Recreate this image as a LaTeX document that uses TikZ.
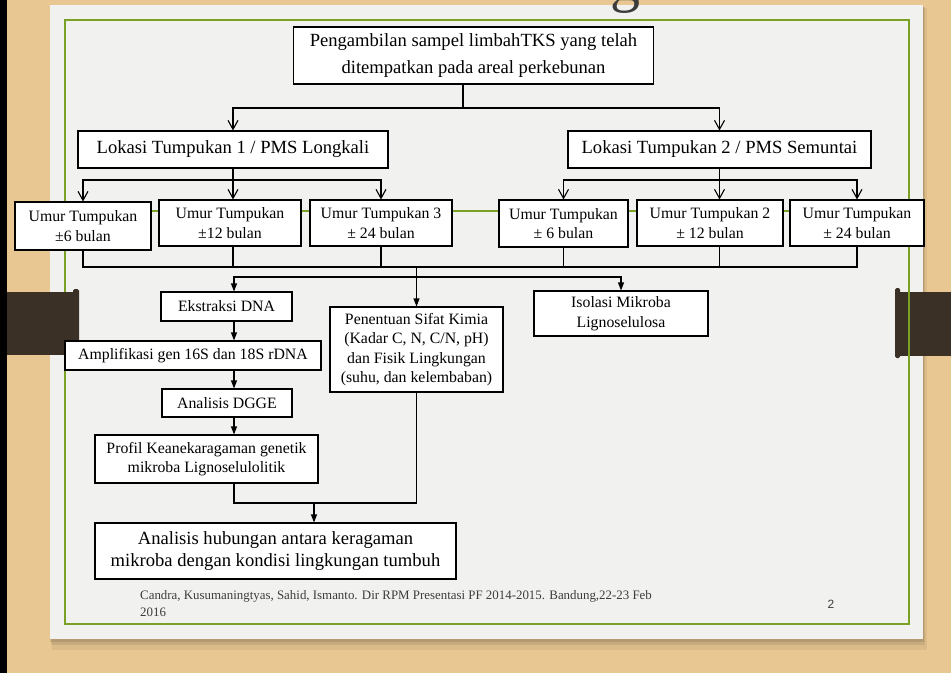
\documentclass[tikz,border=0pt]{standalone}
\usepackage{fontspec}
\setmainfont{Liberation Serif}
\newfontfamily\pagenofont{Liberation Sans}
\usetikzlibrary{arrows.meta}

\definecolor{woodtan}{RGB}{233,199,146}
\definecolor{paper}{RGB}{241,241,239}
\definecolor{slidegreen}{RGB}{122,160,38}
\definecolor{tabbrown}{RGB}{58,48,38}
\definecolor{footgray}{RGB}{60,60,60}

\begin{document}
\begin{tikzpicture}[x=1pt,y=-1pt]
  \tikzstyle{box}=[draw,fill=white,line width=1.1pt,align=center,inner sep=0pt]
  \tikzstyle{bigtext}=[font=\fontsize{18.6}{22}\selectfont]
  \tikzstyle{smalltext}=[font=\fontsize{15.8}{19.5}\selectfont]
  \tikzstyle{link}=[line width=1.1pt]
  \tikzstyle{openarrow}=[link,-{Straight Barb[length=9pt,width=10pt]}]
  \tikzstyle{fillarrow}=[link,-{Triangle[length=8pt,width=6pt]}]
  \useasboundingbox (0,0) rectangle (951,673);

  % slide background
  \fill[woodtan] (0,0) rectangle (951,673);
  \fill[black] (0,0) rectangle (7,673);
  \fill[black,opacity=.06] (52,8) rectangle (927,650);
  \fill[black,opacity=.08] (51,7) rectangle (925,645);
  \fill[black,opacity=.10] (50,6) rectangle (924,642);
  \fill[paper] (50,5) rectangle (923,639);
  \fill[tabbrown] (898,292) rectangle (951,356);
  \fill[tabbrown,rounded corners=1.5pt] (895,288) rectangle (900,358);
  \draw[slidegreen,line width=2pt] (65,20) rectangle (909,624);
  \draw[slidegreen,line width=2pt] (65,211) -- (909,211);
  \fill[tabbrown] (7,292) rectangle (76,355);
  \fill[tabbrown,rounded corners=1.5pt] (73,289) rectangle (79,357);
  \node[anchor=base,inner sep=0pt,font=\fontsize{60}{60}\selectfont,text=footgray] (judul) at (625,0) {g};

  % boxes
  \node[box,bigtext,font=\fontsize{18.6}{27}\selectfont,minimum width=360pt,minimum height=57pt] (sampel) at (473.5,55.5)
    {Pengambilan sampel limbahTKS yang telah\\ditempatkan pada areal perkebunan};
  \node[box,bigtext,minimum width=310pt,minimum height=37pt] (lokasi1) at (233,149.5) {Lokasi Tumpukan 1 / PMS Longkali};
  \node[box,bigtext,minimum width=303pt,minimum height=37pt] (lokasi2) at (719.5,149.5) {Lokasi Tumpukan 2 / PMS Semuntai};

  \node[box,smalltext,minimum width=136pt,minimum height=48pt] (umur1) at (83,226) {Umur Tumpukan\\±6 bulan};
  \node[box,smalltext,minimum width=142pt,minimum height=46pt] (umur2) at (230,223) {Umur Tumpukan\\±12 bulan};
  \node[box,smalltext,minimum width=142pt,minimum height=46pt] (umur3) at (381,223) {Umur Tumpukan 3\\± 24 bulan};
  \node[box,smalltext,minimum width=129pt,minimum height=47pt] (umur4) at (563.5,223.5) {Umur Tumpukan\\± 6 bulan};
  \node[box,smalltext,minimum width=146pt,minimum height=46pt] (umur5) at (710,223) {Umur Tumpukan 2\\± 12 bulan};
  \node[box,smalltext,minimum width=134pt,minimum height=46pt] (umur6) at (857,223) {Umur Tumpukan\\± 24 bulan};

  \node[box,smalltext,minimum width=131pt,minimum height=29pt] (ekstraksi) at (226.5,306.5) {Ekstraksi DNA};
  \node[box,smalltext,minimum width=256pt,minimum height=29pt] (amplifikasi) at (193,355.5) {Amplifikasi gen 16S dan 18S rDNA};
  \node[box,smalltext,minimum width=130pt,minimum height=28pt] (dgge) at (227,403) {Analisis DGGE};
  \node[box,smalltext,minimum width=223pt,minimum height=48pt] (profil) at (206.5,459)
    {Profil Keanekaragaman genetik\\mikroba Lignoselulolitik};
  \node[box,smalltext,minimum width=173pt,minimum height=85pt] (sifat) at (416.5,349.5)
    {Penentuan Sifat Kimia\\(Kadar C, N, C/N, pH)\\dan Fisik Lingkungan\\(suhu, dan kelembaban)};
  \node[box,smalltext,minimum width=174pt,minimum height=45pt] (isolasi) at (621,313.5) {Isolasi Mikroba\\Lignoselulosa};
  \node[box,bigtext,minimum width=361pt,minimum height=56pt] (analisis) at (275.5,551)
    {Analisis hubungan antara keragaman\\mikroba dengan kondisi lingkungan tumbuh};

  % connectors
  \coordinate (cabang) at (463,108);
  \coordinate (bagi1) at (233,180);
  \coordinate (bagi2) at (719.5,180);
  \coordinate (gabung) at (416.5,267);
  \coordinate (cabang2) at (416.5,277);
  \coordinate (tulang) at (234,277);
  \coordinate (temu) at (314,503);

  \draw[link] (cabang |- sampel.south) -- (cabang);
  \draw[openarrow] (cabang) -| (lokasi1.north);
  \draw[openarrow] (cabang) -| (lokasi2.north);

  \draw[openarrow] (lokasi1.south) -- (lokasi1.south |- umur2.north);
  \draw[openarrow] (bagi1) -| (umur1.north);
  \draw[openarrow] (bagi1) -| (umur3.north);
  \draw[openarrow] (lokasi2.south) -- (lokasi2.south |- umur5.north);
  \draw[openarrow] (bagi2) -| (umur4.north);
  \draw[openarrow] (bagi2) -| (umur6.north);

  \draw[link] (umur1.south) |- (gabung) -| (umur6.south);
  \draw[link] (lokasi1.south |- umur2.south) -- (lokasi1.south |- gabung);
  \draw[link] (umur3.south) -- (umur3.south |- gabung);
  \draw[link] (umur4.south) -- (umur4.south |- gabung);
  \draw[link] (lokasi2.south |- umur5.south) -- (lokasi2.south |- gabung);

  \draw[fillarrow] (gabung) -- (sifat.north);
  \draw[fillarrow] (cabang2) -- (tulang) -- (tulang |- ekstraksi.north);
  \draw[fillarrow] (cabang2) -| (isolasi.north);

  \draw[fillarrow] (tulang |- ekstraksi.south) -- (tulang |- amplifikasi.north);
  \draw[fillarrow] (tulang |- amplifikasi.south) -- (tulang |- dgge.north);
  \draw[fillarrow] (tulang |- dgge.south) -- (tulang |- profil.north);
  \draw[link] (tulang |- profil.south) |- (sifat.south |- temu) -- (sifat.south);
  \draw[fillarrow] (temu) -- (temu |- analisis.north);

  % footer
  \node[anchor=west,align=left,inner sep=0pt,font=\fontsize{12.9}{17}\selectfont,text=footgray] (sumber) at (140,604)
    {Candra, Kusumaningtyas, Sahid, Ismanto. Dir RPM Presentasi PF 2014-2015. Bandung,22-23 Feb\\2016};
  \node[inner sep=0pt,font=\pagenofont\fontsize{12}{12}\selectfont,text=footgray] (halaman) at (831,604) {2};
\end{tikzpicture}
\end{document}
